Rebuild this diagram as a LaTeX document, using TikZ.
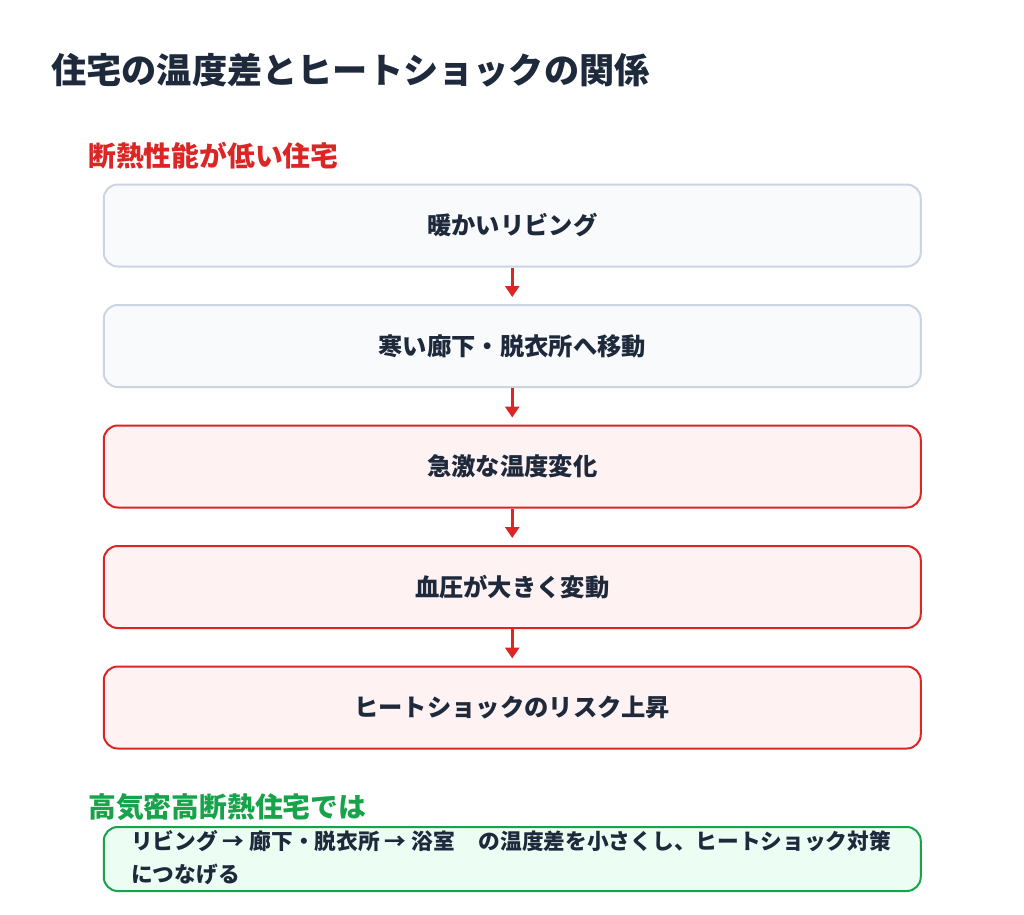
\documentclass[tikz,border=0pt]{standalone}
\usepackage{fontspec}
\setmainfont{Noto Sans CJK JP}
\usetikzlibrary{arrows.meta}
\definecolor{ink}{HTML}{1E293B}
\definecolor{redc}{HTML}{DC2626}
\definecolor{redfill}{HTML}{FEF2F2}
\definecolor{grayline}{HTML}{CBD5E1}
\definecolor{grayfill}{HTML}{F8FAFC}
\definecolor{greenc}{HTML}{16A34A}
\definecolor{greenfill}{HTML}{ECFDF3}
\tikzset{
  flowbox/.style={draw, line width=2pt, rounded corners=14pt, minimum width=817pt, minimum height=82pt, inner sep=0pt, text=ink, font=\fontsize{24.3}{29}\selectfont\bfseries},
  graybox/.style={flowbox, draw=grayline, fill=grayfill},
  redbox/.style={flowbox, draw=redc, fill=redfill},
  flowarrow/.style={draw=redc, line width=3pt, -{Triangle[length=11pt,width=14pt]}, shorten >=7pt},
}
\begin{document}
\begin{tikzpicture}[x=1pt,y=-1pt]
\useasboundingbox[fill=white] (0,0) rectangle (1024,914);
\node[anchor=west, inner sep=0pt, text=ink, font=\fontsize{35.2}{40}\selectfont\bfseries] (title) at (51,70) {住宅の温度差とヒートショックの関係};
\node[anchor=west, inner sep=0pt, text=redc, font=\fontsize{27.8}{32}\selectfont\bfseries] (sub1) at (88,156) {断熱性能が低い住宅};
\node[graybox] (b1) at (512.25,225.5) {暖かいリビング};
\node[graybox] (b2) at (512.25,346) {寒い廊下・脱衣所へ移動};
\node[redbox] (b3) at (512.25,466.5) {急激な温度変化};
\node[redbox] (b4) at (512.25,587) {血圧が大きく変動};
\node[redbox] (b5) at (512.25,707.5) {ヒートショックのリスク上昇};
\draw[flowarrow] (b1.south) -- (b2.north);
\draw[flowarrow] (b2.south) -- (b3.north);
\draw[flowarrow] (b3.south) -- (b4.north);
\draw[flowarrow] (b4.south) -- (b5.north);
\node[anchor=west, inner sep=0pt, text=greenc, font=\fontsize{27.8}{32}\selectfont\bfseries] (sub2) at (88,807) {高気密高断熱住宅では};
\node[draw=greenc, fill=greenfill, line width=2pt, rounded corners=14pt, minimum width=817pt, minimum height=64pt, inner sep=0pt] (gbox) at (512.25,859) {};
\node[anchor=north west, inner sep=0pt, align=left, text=ink, font=\fontsize{21.7}{33}\selectfont\bfseries] (gtext) at (131,830) {リビング → 廊下・脱衣所 → 浴室\hspace{1.1em}の温度差を小さくし、ヒートショック対策\\につなげる};
\end{tikzpicture}
\end{document}
